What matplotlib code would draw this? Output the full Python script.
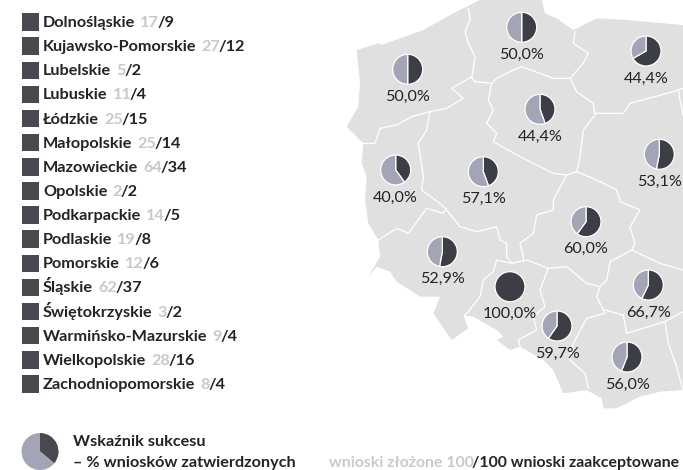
import matplotlib
matplotlib.use("Agg")
import matplotlib.pyplot as plt
from matplotlib.patches import Polygon, Rectangle

# ---- data ----
regions = ["Dolnośląskie", "Kujawsko-Pomorskie", "Lubelskie", "Lubuskie", "Łódzkie",
           "Małopolskie", "Mazowieckie", "Opolskie", "Podkarpackie", "Podlaskie",
           "Pomorskie", "Śląskie", "Świętokrzyskie", "Warmińsko-Mazurskie",
           "Wielkopolskie", "Zachodniopomorskie"]
submitted = [17, 27, 5, 11, 25, 25, 64, 2, 14, 19, 12, 62, 3, 9, 28, 8]
accepted = [9, 12, 2, 4, 15, 14, 34, 2, 5, 8, 6, 37, 2, 4, 16, 4]

pie_labels = ["50,0%", "44,4%", "50,0%", "44,4%", "40,0%", "57,1%", "53,1%", "60,0%",
              "52,9%", "100,0%", "66,7%", "59,7%", "56,0%"]
pie_dark = [50.0, 66.7, 50.0, 44.4, 40.0, 44.4, 53.1, 60.0, 52.9, 100.0, 57.1, 59.7, 56.0]
pie_x = [521.7, 646, 407.7, 540, 395.7, 483.3, 659.3, 586, 442.3, 510, 648.3, 557, 627]
pie_y = [27.3, 51, 69.3, 109.3, 170, 171.7, 154.3, 221.7, 251.7, 286.7, 285, 326, 357]
legend_pie = [36, 64]

DARK = "#3d3d45"
LIGHT = "#a3a5b6"
SQUARE = "#49484f"
GREY = "#c9c9c9"
MAP = "#e0e0e0"
TXT = "#232328"


def top(pts):
    return [(340 + x / 3, y / 3) for x, y in pts]


def low(pts):
    return [(340 + x / 3, 200 + y / 3) for x, y in pts]


outline = (
    top([(50, 150), (115, 130), (125, 135), (250, 90), (340, 40), (380, 20), (420, 0),
         (605, 0), (615, 40), (650, 55), (700, 90), (770, 55), (860, 60), (1029, 75)])
    + [(683, 200), (683, 390)]
    + low([(1029, 570), (960, 575), (900, 590), (830, 625), (790, 625), (785, 595),
           (740, 570), (670, 580), (640, 510), (610, 480), (540, 440), (510, 450),
           (470, 420), (490, 410), (470, 390), (400, 350), (370, 345), (385, 385),
           (335, 420), (280, 340), (300, 290), (240, 290), (170, 245), (150, 215),
           (110, 200), (85, 230), (120, 170), (115, 120), (85, 70), (75, 0)])
    + top([(80, 530), (65, 490), (70, 430), (20, 380), (55, 320), (60, 250), (55, 200)])
)

borders = [
    top([(385, 25), (390, 60), (375, 95), (385, 130), (405, 170), (395, 235), (405, 245)]),
    top([(395, 230), (335, 265), (370, 295), (320, 325), (270, 335), (215, 350), (170, 375),
         (120, 385), (105, 430), (65, 430)]),
    top([(405, 245), (455, 250), (470, 235), (510, 215), (545, 200), (640, 235), (690, 235)]),
    top([(705, 95), (700, 130), (745, 160), (730, 190), (690, 235)]),
    top([(690, 235), (710, 275), (760, 310), (765, 345), (730, 390), (720, 470), (710, 515)]),
    top([(455, 250), (445, 300), (460, 330), (440, 370), (470, 400), (460, 425), (540, 470),
         (640, 520), (680, 525), (710, 515)]),
    top([(765, 340), (850, 340), (870, 310), (1000, 275), (1029, 265)]),
    top([(1015, 270), (1020, 300), (1029, 345)]),
    top([(270, 335), (260, 390), (235, 430), (250, 530), (245, 570), (300, 610), (320, 630)])
    + low([(360, 80), (410, 95), (470, 80), (480, 120), (500, 130), (500, 170), (515, 190)]),
    low([(115, 120), (170, 85), (205, 100), (260, 25), (310, 40), (320, 25)]),
    top([(680, 525), (640, 600)]) + low([(640, 30), (590, 45), (580, 100), (540, 130), (550, 170), (550, 185)]),
    low([(515, 190), (470, 180), (460, 215), (430, 240), (420, 290), (385, 335), (375, 345)]),
    low([(515, 190), (560, 180), (625, 205), (680, 200), (740, 250), (780, 260)]),
    low([(625, 205), (600, 270), (615, 320), (580, 350), (590, 390), (535, 420), (540, 440)]),
    top([(710, 515), (770, 540), (830, 570), (840, 600)])
    + low([(840, 5), (900, 30), (870, 80), (885, 130), (875, 150), (810, 185), (800, 240), (780, 260)]),
    low([(875, 150), (960, 190), (1029, 210)]),
    low([(780, 260), (770, 290), (795, 340), (740, 355), (700, 430), (690, 480), (735, 520), (745, 565)]),
    low([(795, 330), (850, 345), (860, 400), (975, 365), (1029, 335)]),
    low([(975, 365), (985, 430), (1010, 500), (1029, 570)]),
]

fig = plt.figure(figsize=(6.83, 4.70), dpi=100)
ax = fig.add_axes([0, 0, 1, 1])
ax.add_patch(Polygon(outline, closed=True, facecolor=MAP, edgecolor="none", zorder=1))
for b in borders:
    ax.plot([p[0] for p in b], [p[1] for p in b], color="white", lw=0.9, zorder=2)

for dark, x, y, lab in zip(pie_dark, pie_x, pie_y, pie_labels):
    vals = [dark, 100 - dark] if dark < 100 else [dark]
    ax.pie(vals, colors=[DARK, LIGHT], center=(x, y), radius=15, startangle=-90,
           counterclock=True, frame=True,
           wedgeprops=dict(edgecolor="white", linewidth=0.9, zorder=3))
    ax.text(x, y + 27.5, lab, ha="center", va="center", fontsize=11.6, family="Lato", color=TXT, zorder=4)

ax.pie(legend_pie, colors=[SQUARE, LIGHT], center=(40, 451.5), radius=18.5, startangle=-90,
       counterclock=True, frame=True,
       wedgeprops=dict(edgecolor="none", zorder=3))

ax.set_xlim(0, 683)
ax.set_ylim(470, 0)
ax.set_aspect("auto")
ax.axis("off")

fig.canvas.draw()
rend = fig.canvas.get_renderer()


def chain(x, y, parts, fs=11.7, gap=-1.5):
    """Draw consecutive text runs on one baseline; returns the end x in pixels."""
    for s, col, weight in parts:
        t = ax.text(x, y, s, ha="left", va="baseline", fontsize=fs, family="Lato",
                    fontweight=weight, color=col, zorder=5)
        x = t.get_window_extent(rend).x1 + gap
    return x


row0, step = 22.0, 24.13
for i, (r, s, a) in enumerate(zip(regions, submitted, accepted)):
    y = row0 + i * step
    ax.add_patch(Rectangle((21.5, y - 8.7), 17.5, 17.5, facecolor=SQUARE, edgecolor="none", zorder=3))
    x = chain(43, y + 5, [(r, TXT, "bold")], gap=0) + 5
    chain(x, y + 5, [(str(s), GREY, "bold"), (f"/{a}", TXT, "bold")])

chain(73, 446, [("Wskaźnik sukcesu", TXT, "bold")])
chain(73, 467, [("– % wniosków zatwierdzonych", TXT, "bold")])
chain(329, 467, [("wnioski złożone 100", GREY, "bold"), ("/100 wnioski zaakceptowane", TXT, "bold")], fs=11.4)

fig.savefig("out.png", dpi=100)
